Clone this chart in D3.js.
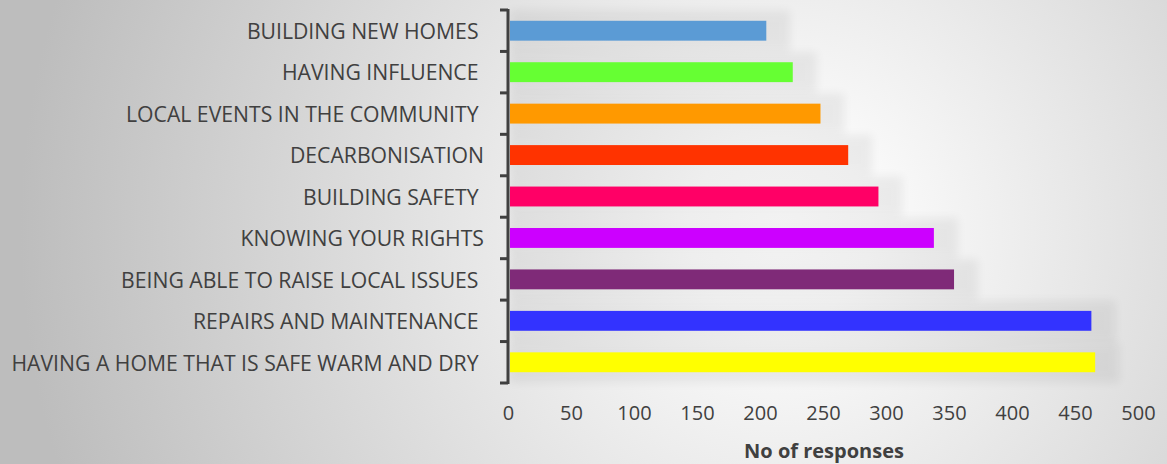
<!DOCTYPE html>
<html><head><meta charset="utf-8">
<script src="https://cdn.jsdelivr.net/npm/d3@7"></script>
<style>html,body{margin:0;padding:0;overflow:hidden;background:#fff}</style>
</head><body><svg id="c" width="1167" height="464"></svg>
<script>
const categories = ["BUILDING NEW HOMES ", "HAVING INFLUENCE ", "LOCAL EVENTS IN THE COMMUNITY ", "DECARBONISATION", "BUILDING SAFETY ", "KNOWING YOUR RIGHTS", "BEING ABLE TO RAISE LOCAL ISSUES ", "REPAIRS AND MAINTENANCE ", "HAVING A HOME THAT IS SAFE WARM AND DRY "];
const values = [205, 226, 248, 270, 294, 338, 354, 463, 466];
const colors = ["#5b9bd5", "#66ff33", "#ff9900", "#ff3300", "#ff0066", "#cc00ff", "#7f2a78", "#3333ff", "#ffff00"];
const xTicks = [0, 50, 100, 150, 200, 250, 300, 350, 400, 450, 500];
const xTitle = "No of responses";

const svg = d3.select("#c");
const W = 1167, H = 464;
const defs = svg.append("defs");
const rg = defs.append("radialGradient").attr("id","bg").attr("gradientUnits","userSpaceOnUse")
  .attr("cx", 780).attr("cy", 230).attr("r", 760);
rg.append("stop").attr("offset","0").attr("stop-color","#ffffff");
rg.append("stop").attr("offset","0.12").attr("stop-color","#fbfbfb");
rg.append("stop").attr("offset","1").attr("stop-color","#bdbdbd");
defs.append("filter").attr("id","blur").attr("x","-20%").attr("y","-50%").attr("width","140%").attr("height","200%")
  .append("feGaussianBlur").attr("stdDeviation", 5);

svg.append("rect").attr("width",W).attr("height",H).attr("fill","url(#bg)");

const x = d3.scaleLinear().domain([0, 500]).range([508, 1138]);
const y = d3.scaleBand().domain(categories).range([10, 383]).paddingInner(0.52).paddingOuter(0.26);
const step = y.step();

const g = svg.append("g");
// soft shadows behind bars
g.selectAll("rect.sh").data(categories).join("rect").attr("class","sh")
  .attr("x", x(0)+2).attr("y", d => y(d) - step*0.25)
  .attr("width", (d,i) => x(values[i]) - x(0) + 22)
  .attr("height", y.bandwidth() + step*0.5)
  .attr("fill", "#000").attr("opacity", 0.055).attr("filter","url(#blur)");

g.selectAll("rect.bar").data(categories).join("rect").attr("class","bar")
  .attr("x", x(0)+2).attr("y", d => y(d))
  .attr("width", (d,i) => x(values[i]) - x(0) - 2)
  .attr("height", y.bandwidth())
  .attr("fill", (d,i) => colors[i]);

// category axis
const yAxis = d3.axisLeft(y).tickSize(0).tickPadding(24);
const ya = svg.append("g").attr("transform", `translate(${x(0)},1.5)`).call(yAxis);
ya.select(".domain").remove();
ya.selectAll("text").attr("fill","#404040").style("white-space","pre")
  .style("font-family","'Open Sans', sans-serif").style("font-size","21.2px");
// axis line and boundary ticks
const boundaries = d3.range(categories.length + 1).map(i => 10 + i * step);
svg.append("line").attr("x1", x(0)).attr("x2", x(0)).attr("y1", 9).attr("y2", 384)
  .attr("stroke","#404040").attr("stroke-width", 3);
svg.selectAll("line.bt").data(boundaries).join("line").attr("class","bt")
  .attr("x1", x(0)-8).attr("x2", x(0)).attr("y1", d => d).attr("y2", d => d)
  .attr("stroke","#404040").attr("stroke-width", 3);

// value axis labels
const xAxis = d3.axisBottom(x).tickValues(xTicks).tickSize(0).tickPadding(0);
const xa = svg.append("g").attr("transform", `translate(0,406)`).call(xAxis);
xa.select(".domain").remove();
xa.selectAll("text").attr("fill","#404040").attr("dy","0.71em").style("font-family","'Open Sans', sans-serif").style("font-size","20px");

svg.append("text").attr("x", 824).attr("y", 458).attr("text-anchor","middle")
  .attr("fill","#404040").style("font-family","'Open Sans', sans-serif").style("font-size","20px").style("font-weight","bold")
  .text(xTitle);
</script></body></html>
